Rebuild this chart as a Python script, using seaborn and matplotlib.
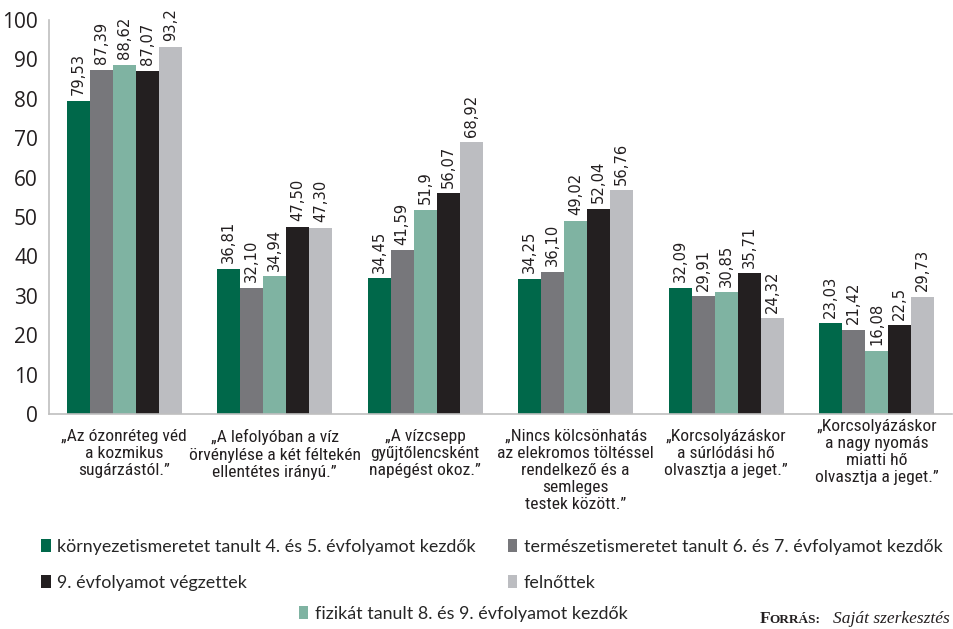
import numpy as np
import pandas as pd
import matplotlib
matplotlib.use("Agg")
import matplotlib.pyplot as plt
from matplotlib import font_manager as fm
import seaborn as sns

categories = [
    "„Az ózonréteg véd\na kozmikus\nsugárzástól.”",
    "„A lefolyóban a víz\nörvénylése a két féltekén\nellentétes irányú.”",
    "„A vízcsepp\ngyűjtőlencsként\nnapégést okoz.”",
    "„Nincs kölcsönhatás\naz elekromos töltéssel\nrendelkező és a\nsemleges\ntestek között.”",
    "„Korcsolyázáskor\na súrlódási hő\nolvasztja a jeget.”",
    "„Korcsolyázáskor\na nagy nyomás\nmiatti hő\nolvasztja a jeget.”",
]
groups = [
    "környezetismeretet tanult 4. és 5. évfolyamot kezdők",
    "természetismeretet tanult 6. és 7. évfolyamot kezdők",
    "fizikát tanult 8. és 9. évfolyamot kezdők",
    "9. évfolyamot végzettek",
    "felnőttek",
]
colors = ["#00684A", "#77777B", "#7FB3A2", "#231F20", "#BCBDC1"]

v_env = [79.53, 36.81, 34.45, 34.25, 32.09, 23.03]
v_term = [87.39, 32.10, 41.59, 36.10, 29.91, 21.42]
v_fiz = [88.62, 34.94, 51.9, 49.02, 30.85, 16.08]
v_kilenc = [87.07, 47.50, 56.07, 52.04, 35.71, 22.5]
v_felnott = [93.2, 47.30, 68.92, 56.76, 24.32, 29.73]

l_env = ["79,53", "36,81", "34,45", "34,25", "32,09", "23,03"]
l_term = ["87,39", "32,10", "41,59", "36,10", "29,91", "21,42"]
l_fiz = ["88,62", "34,94", "51,9", "49,02", "30,85", "16,08"]
l_kilenc = ["87,07", "47,50", "56,07", "52,04", "35,71", "22,5"]
l_felnott = ["93,2", "47,30", "68,92", "56,76", "24,32", "29,73"]

yticks = [0, 10, 20, 30, 40, 50, 60, 70, 80, 90, 100]

series_vals = [v_env, v_term, v_fiz, v_kilenc, v_felnott]
series_lbls = [l_env, l_term, l_fiz, l_kilenc, l_felnott]

rows = []
for g, vals in zip(groups, series_vals):
    for c, v in zip(categories, vals):
        rows.append({"cat": c, "group": g, "value": v})
df = pd.DataFrame(rows)


def pick_font(cands):
    for f in cands:
        try:
            fm.findfont(fm.FontProperties(family=f), fallback_to_default=False)
            return f
        except Exception:
            continue
    return "DejaVu Sans"


narrow = pick_font(["Liberation Sans Narrow", "Roboto Condensed", "Open Sans Condensed", "Noto Sans"])
legfont = pick_font(["Lato", "Open Sans"])
tickfont = pick_font(["Open Sans", "Lato"])

sns.set_theme(style="white")
plt.rcParams["font.family"] = ["DejaVu Sans"]

fig = plt.figure(figsize=(9.54, 6.29), dpi=100)
ax = fig.add_axes([49 / 954, 1 - 414 / 629, 903 / 954, 394 / 629])

sns.barplot(data=df, x="cat", y="value", hue="group", order=categories,
            hue_order=groups, palette=colors, width=0.765, gap=0,
            linewidth=0, saturation=1, legend=False, ax=ax)

for cont, lbls in zip(ax.containers, series_lbls):
    ax.bar_label(cont, labels=lbls, rotation=90, padding=4,
                 fontsize=10.6, color="#231F20", family="DejaVu Sans")

ax.set_ylim(0, 100)
ax.set_xlim(-0.5, len(categories) - 0.5)
ax.set_yticks(yticks)
ax.set_yticklabels([str(t) for t in yticks], family=tickfont, fontsize=15, color="#231F20")
ax.set_xlabel("")
ax.set_ylabel("")
ax.set_xticks(np.arange(len(categories)))
ax.set_xticklabels([""] * len(categories))
ax.set_xticks(np.arange(-0.5, len(categories), 1.0), minor=True)
ax.tick_params(axis="x", which="major", length=0)
ax.tick_params(axis="x", which="minor", length=5, width=1, color="#BFBFBF", direction="out")
ax.tick_params(axis="y", which="major", length=5, width=1, color="#BFBFBF", direction="out", pad=3)

for s in ["top", "right"]:
    ax.spines[s].set_visible(False)
for s in ["left", "bottom"]:
    ax.spines[s].set_color("#BFBFBF")
    ax.spines[s].set_linewidth(1.2)
ax.grid(False)
ax.set_facecolor("white")

# category labels
xt = ax.get_xaxis_transform()
for i, c in enumerate(categories):
    nlines = c.count("\n") + 1
    off = -0.012 if nlines == 4 else -0.038
    ax.text(i, off, c, transform=xt, ha="center", va="top", fontsize=12.6,
            family=narrow, color="#231F20", linespacing=1.17)

# legend
handles = ax.containers
pos = [(0.043, 1 - 547 / 629), (0.532, 1 - 547 / 629), (0.313, 1 - 614 / 629),
       (0.043, 1 - 583 / 629), (0.532, 1 - 583 / 629)]
for h, g, p in zip(handles, groups, pos):
    fig.legend(handles=[h], labels=[g], loc="center left", bbox_to_anchor=p,
               frameon=False, handlelength=0.55, handleheight=0.75,
               handletextpad=0.35, borderpad=0, borderaxespad=0,
               prop={"family": legfont, "size": 12.9})

yb = 1 - 623 / 629
fig.text(760 / 954, yb, "F", family="Liberation Serif", fontsize=12.5,
         color="#231F20", ha="left", va="baseline", weight="bold")
fig.text(769 / 954, yb, "ORRÁS:", family="Liberation Serif", fontsize=9.5,
         color="#231F20", ha="left", va="baseline", weight="bold")
fig.text(950 / 954, yb, "Saját szerkesztés", family="Liberation Serif",
         style="italic", fontsize=12.5, color="#231F20", ha="right", va="baseline")

fig.savefig("out.png", dpi=100, facecolor="white")
